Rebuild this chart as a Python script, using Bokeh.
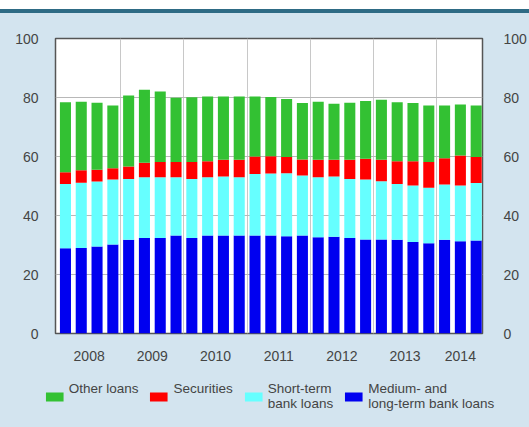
from bokeh.plotting import figure
from bokeh.models import (ColumnDataSource, FixedTicker, LinearAxis, Range1d, Legend, LegendItem)
from bokeh.layouts import column
from bokeh.embed import file_html
from bokeh.resources import INLINE

# Quarterly data, 2008 Q1 - 2014 Q3 (percent of total)
quarters = list(range(27))
medium_long = [28.9, 29.0, 29.5, 30.2, 31.8, 32.4, 32.4, 33.2, 32.4, 33.2, 33.2, 33.2, 33.2, 33.2,
               33.0, 33.2, 32.6, 32.8, 32.4, 31.9, 31.9, 31.8, 31.0, 30.6, 31.8, 31.3, 31.5]
short_term = [21.8, 22.1, 22.0, 22.0, 20.6, 20.6, 20.6, 19.8, 20.0, 19.8, 20.0, 19.8, 20.9, 21.0,
              21.3, 20.4, 20.4, 20.4, 20.0, 20.3, 19.7, 18.9, 19.2, 18.8, 18.7, 18.9, 19.5]
securities = [4.0, 4.2, 4.0, 3.8, 4.2, 4.9, 5.1, 5.1, 5.7, 5.4, 5.7, 5.9, 5.9, 5.9,
              5.5, 5.4, 5.9, 5.7, 6.5, 7.0, 7.3, 7.7, 8.2, 8.7, 8.9, 10.1, 8.8]
other_loans = [23.7, 23.3, 22.7, 21.3, 24.1, 24.7, 23.9, 21.8, 22.0, 21.9, 21.4, 21.4, 20.3, 20.1,
               19.7, 19.1, 19.7, 19.0, 19.3, 19.6, 20.3, 20.0, 19.7, 19.2, 17.9, 17.3, 17.5]
year_labels = ["2008", "2009", "2010", "2011", "2012", "2013", "2014"]
year_centers = [1.5, 5.5, 9.5, 13.5, 17.5, 21.5, 25.0]
year_breaks = [3.5, 7.5, 11.5, 15.5, 19.5, 23.5]
y_ticks = [0, 20, 40, 60, 80, 100]

series = ["medium_long", "short_term", "securities", "other_loans"]
names = ["Medium- and\nlong-term bank loans", "Short-term\nbank loans", "Securities\n ", "Other loans\n "]
colors = ["#0000f0", "#66ffff", "#ff0000", "#33c133"]

source = ColumnDataSource(dict(x=quarters, medium_long=medium_long, short_term=short_term,
                               securities=securities, other_loans=other_loans))

BG = "#d3e4ef"
RULE = "#2e6b85"
FONT = "Liberation Sans"
TXT = "#444444"
W = 529
TOP_H = 4
MAIN_H = 363
LEG_H = 427 - 9 - TOP_H - MAIN_H


def bare(fig, color):
    fig.axis.visible = False
    fig.grid.visible = False
    fig.outline_line_color = None
    fig.background_fill_color = color
    fig.border_fill_color = color
    fig.margin = 0


# top rule of the panel
top = figure(width=W, height=TOP_H, output_backend="svg", toolbar_location=None,
             min_border_left=0, min_border_right=0, min_border_top=0, min_border_bottom=0)
bare(top, RULE)
top.styles = {"background-color": RULE}

# main chart
p = figure(width=W, height=MAIN_H, output_backend="svg", toolbar_location=None,
           x_range=Range1d(-0.63, 26.4), y_range=Range1d(0, 100),
           min_border_left=55, min_border_right=46, min_border_top=25, min_border_bottom=43)
p.background_fill_color = "white"
p.border_fill_color = BG
p.outline_line_color = "#555555"
p.outline_line_width = 1.5
p.margin = 0

renderers = p.vbar_stack(series, x="x", width=0.7, color=colors, line_color=None, source=source)

for ax in [p.xaxis[0], p.yaxis[0]]:
    ax.axis_line_color = None
    ax.major_tick_line_color = None
    ax.minor_tick_line_color = None
    ax.major_label_text_font = FONT
    ax.major_label_text_font_size = "14px"
    ax.major_label_text_color = TXT

p.xaxis.ticker = FixedTicker(ticks=year_centers)
p.xaxis.major_label_overrides = {c: l for c, l in zip(year_centers, year_labels)}
p.xaxis.major_label_standoff = 11

p.yaxis.ticker = FixedTicker(ticks=y_ticks)
p.yaxis.major_label_standoff = 11

right = LinearAxis(ticker=FixedTicker(ticks=y_ticks))
right.axis_line_color = None
right.major_tick_line_color = None
right.minor_tick_line_color = None
right.major_label_text_font = FONT
right.major_label_text_font_size = "14px"
right.major_label_text_color = TXT
right.major_label_standoff = 15
p.add_layout(right, "right")

p.xgrid.ticker = FixedTicker(ticks=year_breaks)
p.xgrid.grid_line_color = "#c8c8c8"
p.ygrid.ticker = FixedTicker(ticks=[20, 40, 60, 80])
p.ygrid.grid_line_color = "#b8b8b8"

# legend panel
lg = figure(width=W, height=LEG_H, output_backend="svg", toolbar_location=None,
            x_range=Range1d(0, 1), y_range=Range1d(0, 1),
            min_border_left=0, min_border_right=0, min_border_top=0, min_border_bottom=0)
bare(lg, BG)
swatches = [lg.vbar(x=[5], top=[5], bottom=[4], width=0.5, color=c, line_color=None) for c in colors]
items = [LegendItem(label=names[i], renderers=[swatches[i]]) for i in [3, 2, 1, 0]]
legend = Legend(items=items, orientation="horizontal", location="center",
                background_fill_alpha=0, border_line_color=None,
                label_text_font=FONT, label_text_font_size="13.5px", label_text_color=TXT,
                label_text_line_height=1.63,
                glyph_width=22, glyph_height=11, label_standoff=4, spacing=9,
                padding=0, margin=6)
lg.add_layout(legend, "above")

layout = column(top, p, lg, spacing=0, margin=(9, 0, 0, 0), styles={"background-color": BG})
open("out.html", "w").write(file_html(layout, INLINE))
